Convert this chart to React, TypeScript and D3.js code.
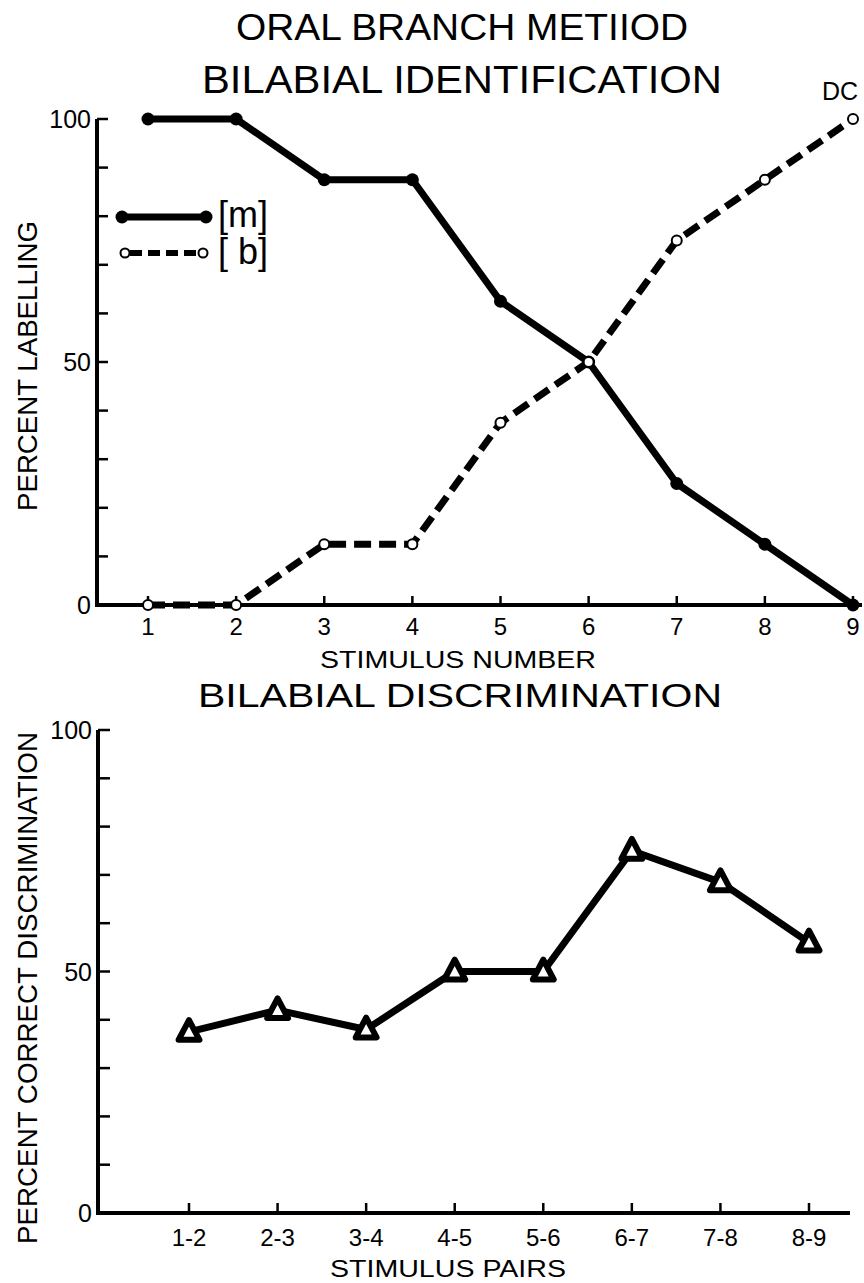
import React from "react";
import * as d3 from "d3";

// ---------- data ----------
const stimuli = [1, 2, 3, 4, 5, 6, 7, 8, 9];
const mLabelling = [100, 100, 87.5, 87.5, 62.5, 50, 25, 12.5, 0];
const bLabelling = [0, 0, 12.5, 12.5, 37.5, 50, 75, 87.5, 100];
const yTicks = [0, 10, 20, 30, 40, 50, 60, 70, 80, 90, 100];
const yTickLabels = [0, 50, 100];
const pairs = ["1-2", "2-3", "3-4", "4-5", "5-6", "6-7", "7-8", "8-9"];
const discrimination = [37.5, 42, 38, 50, 50, 75, 68.5, 56];

const FONT = "'Liberation Sans', Arial, sans-serif";

export default function App() {
  const W = 864, H = 1283;
  const xTop = d3.scaleLinear().domain([1, 9]).range([148, 853]);
  const yTop = d3.scaleLinear().domain([0, 100]).range([605, 119]);
  const xBot = d3.scalePoint<string>().domain(pairs).range([189, 809]);
  const yBot = d3.scaleLinear().domain([0, 100]).range([1213, 730]);

  const lineTop = d3.line<number>().x((_, i) => xTop(stimuli[i])).y((d) => yTop(d));
  const lineBot = d3.line<number>().x((_, i) => xBot(pairs[i])!).y((d) => yBot(d));

  const tri = (cx: number, cy: number, s: number) =>
    `M${cx},${cy - s * 0.62} L${cx + s * 0.55},${cy + s * 0.42} L${cx - s * 0.55},${cy + s * 0.42} Z`;

  return (
    <svg width={W} height={H} style={{ position: "absolute", left: 0, top: 0, background: "#fff" }} fontFamily={FONT}>
      <rect width={W} height={H} fill="#fff" />
      {/* titles */}
      <text x={462} y={40} fontSize={37} textAnchor="middle" textLength={452} lengthAdjust="spacingAndGlyphs">ORAL BRANCH METIIOD</text>
      <text x={462} y={93} fontSize={39} textAnchor="middle" textLength={520} lengthAdjust="spacingAndGlyphs">BILABIAL IDENTIFICATION</text>
      <text x={840} y={100} fontSize={25} textAnchor="middle">DC</text>

      {/* top axes */}
      <line x1={97} x2={97} y1={yTop(100)} y2={yTop(0) + 2} stroke="#000" strokeWidth={4} />
      <line x1={95} x2={862} y1={yTop(0)} y2={yTop(0)} stroke="#000" strokeWidth={4} />
      {yTicks.map((t) => (
        <line key={"yt" + t} x1={97} x2={108} y1={yTop(t)} y2={yTop(t)} stroke="#000" strokeWidth={2.5} />
      ))}
      {yTickLabels.map((t) => (
        <text key={"ytl" + t} x={91} y={yTop(t) + 9} fontSize={25} textAnchor="end">{t}</text>
      ))}
      {stimuli.map((s) => (
        <g key={"xt" + s}>
          <line x1={xTop(s)} x2={xTop(s)} y1={yTop(0)} y2={yTop(0) - 9} stroke="#000" strokeWidth={2.5} />
          <text x={xTop(s)} y={yTop(0) + 30} fontSize={24} textAnchor="middle">{s}</text>
        </g>
      ))}
      <text x={458} y={668} fontSize={23} textAnchor="middle" textLength={276} lengthAdjust="spacingAndGlyphs">STIMULUS NUMBER</text>
      <text transform={`translate(37,366) rotate(-90)`} fontSize={27} textAnchor="middle" textLength={290} lengthAdjust="spacingAndGlyphs">PERCENT LABELLING</text>

      {/* top lines */}
      <path d={lineTop(bLabelling)!} fill="none" stroke="#000" strokeWidth={7} strokeDasharray="17 8" />
      <path d={lineTop(mLabelling)!} fill="none" stroke="#000" strokeWidth={7} strokeLinejoin="round" />
      {mLabelling.map((v, i) => (
        <circle key={"m" + i} cx={xTop(stimuli[i])} cy={yTop(v)} r={6.5} fill="#000" />
      ))}
      {bLabelling.map((v, i) => (
        <circle key={"b" + i} cx={xTop(stimuli[i])} cy={yTop(v)} r={5} fill="#fff" stroke="#000" strokeWidth={2} />
      ))}

      {/* legend */}
      <line x1={120} x2={208} y1={217} y2={217} stroke="#000" strokeWidth={7} />
      <circle cx={122} cy={217} r={6.5} fill="#000" />
      <circle cx={206} cy={217} r={6.5} fill="#000" />
      <text x={218} y={227} fontSize={36}>[m]</text>
      <line x1={130} x2={198} y1={253} y2={253} stroke="#000" strokeWidth={6} strokeDasharray="12 6" />
      <circle cx={125} cy={253} r={4.5} fill="#fff" stroke="#000" strokeWidth={2} />
      <circle cx={203} cy={253} r={4.5} fill="#fff" stroke="#000" strokeWidth={2} />
      <text x={218} y={264} fontSize={36}>[ b]</text>

      {/* bottom title */}
      <text x={460} y={707} fontSize={34} textAnchor="middle" textLength={524} lengthAdjust="spacingAndGlyphs">BILABIAL DISCRIMINATION</text>

      {/* bottom axes */}
      <line x1={98} x2={98} y1={yBot(100)} y2={yBot(0) + 2} stroke="#000" strokeWidth={4} />
      <line x1={96} x2={850} y1={yBot(0)} y2={yBot(0)} stroke="#000" strokeWidth={4} />
      {yTicks.map((t) => (
        <line key={"ybt" + t} x1={98} x2={110} y1={yBot(t)} y2={yBot(t)} stroke="#000" strokeWidth={2.5} />
      ))}
      {yTickLabels.map((t) => (
        <text key={"ybtl" + t} x={92} y={yBot(t) + 9} fontSize={25} textAnchor="end">{t}</text>
      ))}
      {pairs.map((p) => (
        <g key={"xb" + p}>
          <line x1={xBot(p)!} x2={xBot(p)!} y1={yBot(0)} y2={yBot(0) - 10} stroke="#000" strokeWidth={2.5} />
          <text x={xBot(p)!} y={yBot(0) + 33} fontSize={24} textAnchor="middle">{p}</text>
        </g>
      ))}
      <text x={448} y={1277} fontSize={24} textAnchor="middle" textLength={236} lengthAdjust="spacingAndGlyphs">STIMULUS PAIRS</text>
      <text transform={`translate(37,988) rotate(-90)`} fontSize={27} textAnchor="middle" textLength={512} lengthAdjust="spacingAndGlyphs">PERCENT CORRECT DISCRIMINATION</text>

      {/* bottom line */}
      <path d={lineBot(discrimination)!} fill="none" stroke="#000" strokeWidth={7} strokeLinejoin="round" />
      {discrimination.map((v, i) => (
        <path key={"t" + i} d={tri(xBot(pairs[i])!, yBot(v), 19)} fill="#fff" stroke="#000" strokeWidth={6} strokeLinejoin="round" />
      ))}
    </svg>
  );
}
